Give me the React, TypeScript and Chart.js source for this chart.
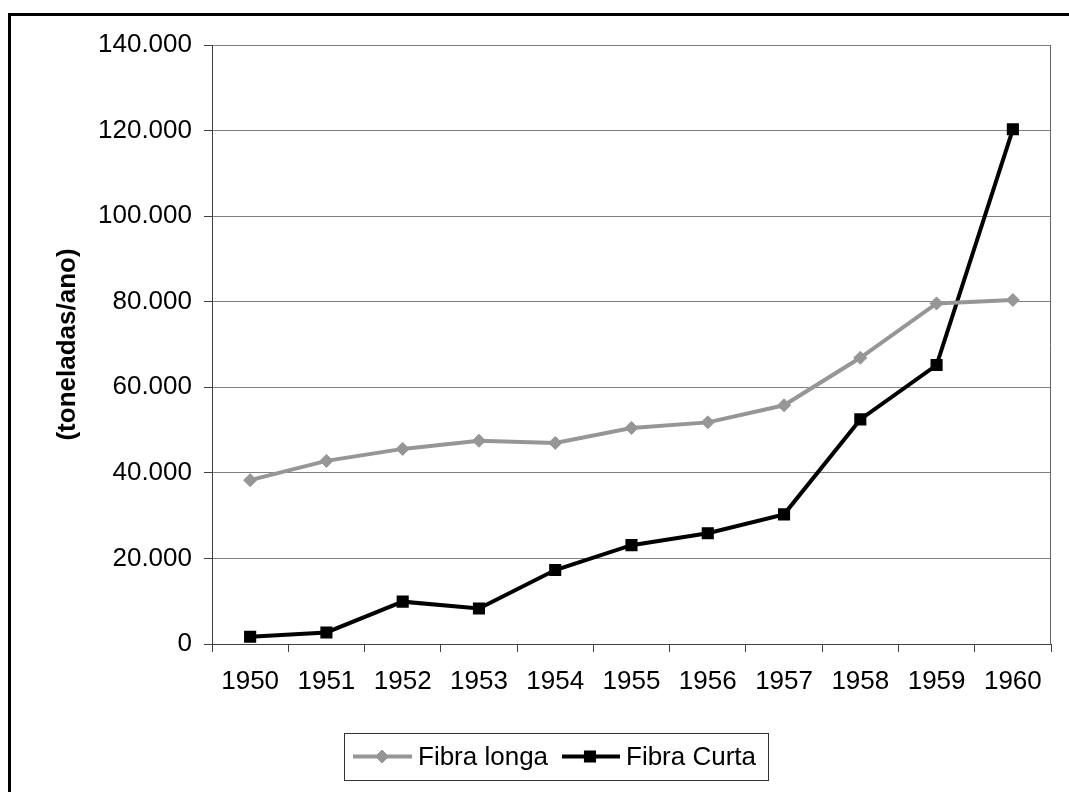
import React, { useEffect, useRef } from 'react';
import { Chart, registerables } from 'chart.js';

Chart.register(...registerables);

// ---- Data ----
const years = ['1950', '1951', '1952', '1953', '1954', '1955', '1956', '1957', '1958', '1959', '1960'];
const fibraLonga = [38300, 42800, 45600, 47500, 47000, 50500, 51800, 55800, 66900, 79600, 80400];
const fibraCurta = [1700, 2700, 9900, 8300, 17300, 23100, 25900, 30300, 52500, 65200, 120300];
const yTickValues = [0, 20000, 40000, 60000, 80000, 100000, 120000, 140000];
const seriesNames = ['Fibra longa', 'Fibra Curta'];
const yTitle = '(toneladas/ano)';

const FONT = '"Liberation Sans", Arial, sans-serif';
const GRAY = '#969696';
const BLACK = '#000000';

const fmt = (v: number) => String(v).replace(/\B(?=(\d{3})+(?!\d))/g, '.');

const W = 1053;
const H = 776;

const framePlugin = {
  id: 'frameAndLegend',
  beforeDatasetsDraw(chart: any) {
    const { ctx, chartArea } = chart;
    ctx.save();
    ctx.strokeStyle = '#666666';
    ctx.lineWidth = 1;
    ctx.beginPath();
    ctx.moveTo(Math.round(chartArea.right) - 0.5, chartArea.top);
    ctx.lineTo(Math.round(chartArea.right) - 0.5, chartArea.bottom);
    ctx.stroke();
    ctx.restore();
  },
  afterDraw(chart: any) {
    const { ctx } = chart;
    ctx.save();
    // legend box
    const bx = 336, by = 725, bw = 424, bh = 47;
    ctx.strokeStyle = '#333333';
    ctx.lineWidth = 1;
    ctx.strokeRect(bx + 0.5, by + 0.5, bw, bh);
    const cy = by + bh / 2;
    const items = [
      { x0: 345, x1: 404, mx: 374, tx: 410, ds: chart.data.datasets[0] },
      { x0: 554, x1: 612, mx: 582, tx: 618, ds: chart.data.datasets[1] },
    ];
    ctx.font = `26px ${FONT}`;
    ctx.textBaseline = 'middle';
    ctx.textAlign = 'left';
    for (const it of items) {
      const ds = it.ds;
      ctx.strokeStyle = ds.borderColor;
      ctx.lineWidth = ds.borderWidth;
      ctx.beginPath();
      ctx.moveTo(it.x0, cy);
      ctx.lineTo(it.x1, cy);
      ctx.stroke();
      ctx.fillStyle = ds.pointBackgroundColor;
      ctx.strokeStyle = ds.pointBorderColor;
      ctx.lineWidth = ds.pointBorderWidth;
      ctx.beginPath();
      if (ds.pointStyle === 'rectRot') {
        const r = ds.pointRadius;
        ctx.moveTo(it.mx - r, cy);
        ctx.lineTo(it.mx, cy - r);
        ctx.lineTo(it.mx + r, cy);
        ctx.lineTo(it.mx, cy + r);
        ctx.closePath();
      } else {
        const s = ds.pointRadius * Math.SQRT1_2;
        ctx.rect(it.mx - s, cy - s, 2 * s, 2 * s);
      }
      ctx.fill();
      ctx.stroke();
      ctx.fillStyle = '#000000';
      ctx.fillText(ds.label, it.tx, cy + 1);
    }
    ctx.restore();
  },
};

export default function App() {
  const ref = useRef<HTMLCanvasElement | null>(null);

  useEffect(() => {
    if (!ref.current) return;
    const chart = new Chart(ref.current, {
      type: 'line',
      data: {
        labels: years,
        datasets: [
          {
            label: seriesNames[0],
            data: fibraLonga,
            borderColor: GRAY,
            backgroundColor: GRAY,
            borderWidth: 4,
            pointStyle: 'rectRot',
            pointRadius: 6.5,
            pointBorderWidth: 1,
            pointBackgroundColor: GRAY,
            pointBorderColor: GRAY,
            tension: 0,
          },
          {
            label: seriesNames[1],
            data: fibraCurta,
            borderColor: BLACK,
            backgroundColor: BLACK,
            borderWidth: 4,
            pointStyle: 'rect',
            pointRadius: 7.5,
            pointBorderWidth: 1.5,
            pointBackgroundColor: BLACK,
            pointBorderColor: BLACK,
            tension: 0,
          },
        ],
      },
      options: {
        responsive: false,
        animation: false,
        events: [],
        layout: { padding: { top: 37, right: 10, left: 0, bottom: 0 } },
        plugins: {
          legend: { display: false },
          tooltip: { enabled: false },
          title: { display: false },
        },
        scales: {
          x: {
            type: 'category',
            offset: true,
            grid: {
              offset: true,
              drawOnChartArea: false,
              drawTicks: true,
              tickLength: 8,
              tickColor: '#404040',
              lineWidth: 1,
            },
            border: { display: true, color: '#404040', width: 1 },
            ticks: {
              color: '#000000',
              font: { family: FONT, size: 26 },
              padding: 14,
              maxRotation: 0,
              autoSkip: false,
            },
            afterFit(scale: any) {
              scale.height = 140;
            },
          },
          y: {
            min: 0,
            max: 140000,
            afterBuildTicks(scale: any) {
              scale.ticks = yTickValues.map((v) => ({ value: v }));
            },
            grid: {
              color: (c: any) => (c.tick && c.tick.value === 0 ? 'rgba(0,0,0,0)' : '#808080'),
              tickColor: '#404040',
              drawTicks: true,
              tickLength: 8,
              lineWidth: 1,
            },
            border: { display: true, color: '#404040', width: 1 },
            ticks: {
              color: '#000000',
              font: { family: FONT, size: 26 },
              padding: 12,
              callback: (v: any) => fmt(Number(v)),
            },
            title: {
              display: true,
              text: yTitle,
              color: '#000000',
              font: { family: FONT, size: 26, weight: 'bold' },
              padding: { top: 44, bottom: 0 },
            },
            afterFit(scale: any) {
              scale.width = 204;
            },
          },
        },
      },
      plugins: [framePlugin],
    } as any);
    return () => chart.destroy();
  }, []);

  return (
    <div style={{ position: 'relative', width: W, height: H, background: '#ffffff' }}>
      <div
        style={{
          position: 'fixed',
          left: 8,
          top: 13,
          width: 2000,
          height: 2000,
          border: '3px solid #000000',
          boxSizing: 'border-box',
        }}
      />
      <canvas ref={ref} width={W} height={H} style={{ position: 'absolute', left: 0, top: 0, width: W, height: H }} />
    </div>
  );
}
